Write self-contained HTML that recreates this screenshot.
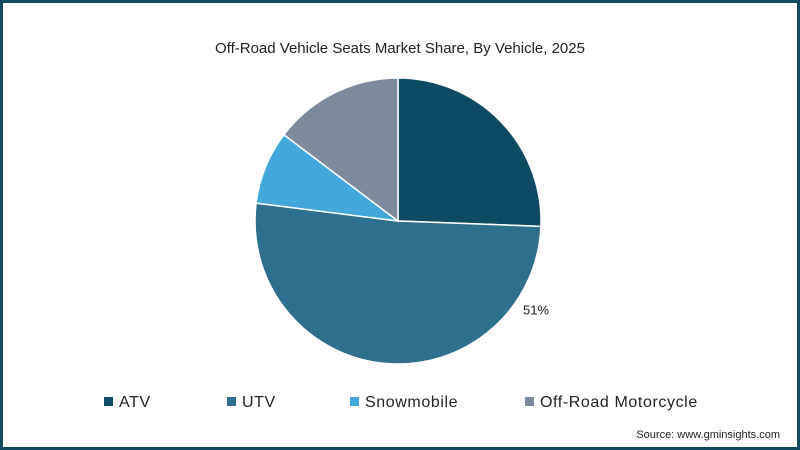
<!DOCTYPE html>
<html><head><meta charset="utf-8"><style>
html,body{margin:0;padding:0;}
body{width:800px;height:450px;overflow:hidden;background:#fff;font-family:"Liberation Sans",sans-serif;}
#frame{position:absolute;left:0;top:0;width:794px;height:444px;border:3px solid #0f4a5e;background:#fff;}
</style></head><body>
<div id="frame"></div>
<svg id="chart" width="800" height="450" style="position:absolute;left:0;top:0">
<text x="400" y="53" text-anchor="middle" font-size="15" fill="#222">Off-Road Vehicle Seats Market Share, By Vehicle, 2025</text>
<g id="slices"></g>
<g id="legend"></g>
<text x="780" y="438" text-anchor="end" font-size="11" fill="#222">Source: www.gminsights.com</text>
</svg>
<script>
const categories = ["ATV","UTV","Snowmobile","Off-Road Motorcycle"];
const values = [25.6,51.4,8.3,14.7];
const colors = ["#0d4a63","#2e6e8e","#42a8dc","#7b8a9c"];
const labelShown = [false,true,false,false];
const ns="http://www.w3.org/2000/svg";
const cx=398, cy=221, r=143;
const total=values.reduce((a,b)=>a+b,0);
const g=document.getElementById('slices');
let a0=0;
function pt(a,rr){return [cx+rr*Math.sin(a), cy-rr*Math.cos(a)];}
values.forEach((v,i)=>{
  const a1=a0+v/total*2*Math.PI;
  const p0=pt(a0,r), p1=pt(a1,r);
  const large=(a1-a0)>Math.PI?1:0;
  const path=document.createElementNS(ns,'path');
  path.setAttribute('d',`M${cx},${cy} L${p0[0]},${p0[1]} A${r},${r} 0 ${large} 1 ${p1[0]},${p1[1]} Z`);
  path.setAttribute('fill',colors[i]);
  path.setAttribute('stroke','#fff');
  path.setAttribute('stroke-width','1.5');
  
  
  g.appendChild(path);
  if(labelShown[i]){
    const am=a0+(a1-a0)*0.165;
    const lp=pt(am,r+21);
    const t=document.createElementNS(ns,'text');
    t.setAttribute('x',lp[0]);
    t.setAttribute('y',lp[1]+5);
    t.setAttribute('font-size','13');
    t.setAttribute('fill','#222');
    t.setAttribute('text-anchor','middle');
    t.textContent=Math.round(v)+'%';
    
    
    g.appendChild(t);
  }
  a0=a1;
});
const legX=[104,227,350,525];
const lg=document.getElementById('legend');
categories.forEach((c,i)=>{
  const gg=document.createElementNS(ns,'g');
  
  
  const rc=document.createElementNS(ns,'rect');
  rc.setAttribute('x',legX[i]);rc.setAttribute('y',397);
  rc.setAttribute('width',9);rc.setAttribute('height',9);
  rc.setAttribute('fill',colors[i]);
  
  
  const t=document.createElementNS(ns,'text');
  t.setAttribute('x',legX[i]+15);t.setAttribute('y',407);
  t.setAttribute('font-size','16');t.setAttribute('fill','#222');
  t.setAttribute('letter-spacing','0.6');
  t.textContent=c;
  
  
  gg.appendChild(rc);gg.appendChild(t);lg.appendChild(gg);
});
</script>
</body></html>
